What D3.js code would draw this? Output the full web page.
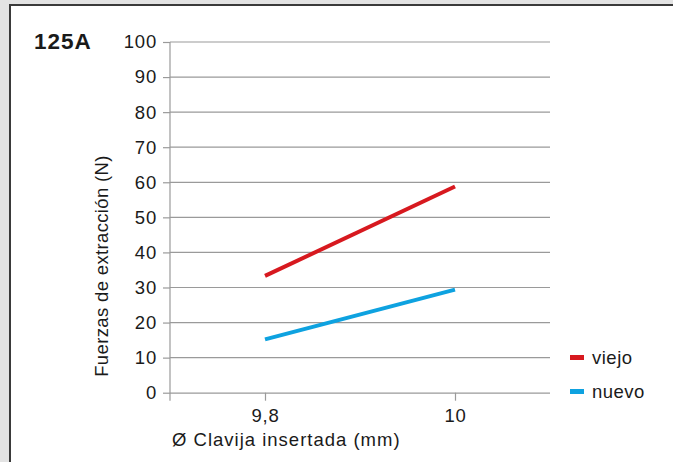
<!DOCTYPE html>
<html>
<head>
<meta charset="utf-8">
<script src="https://cdn.jsdelivr.net/npm/d3@7"></script>
<style>
  body { margin: 0; background: #e3e3e3; }
  text { font-family: "Liberation Sans", Arial, sans-serif; fill: #1a1a1a; }
</style>
</head>
<body>
<div id="chart"></div>
<script>
// chart data
const categories = ["9,8", "10"];
const seriesNames = ["viejo", "nuevo"];
const viejo = [33.3, 58.8];
const nuevo = [15.2, 29.4];
const yTicks = [0, 10, 20, 30, 40, 50, 60, 70, 80, 90, 100];
const colors = ["#d7191f", "#0ea2e0"];

const width = 673, height = 462;
const fontSize = "18.5px";
const svg = d3.select("#chart").append("svg")
	.attr("width", width)
	.attr("height", height);

// white panel with dark border
svg.append("rect")
	.attr("x", 10).attr("y", 5)
	.attr("width", width).attr("height", height)
	.attr("fill", "#fff")
	.attr("stroke", "#3a3a3a")
	.attr("stroke-width", 2);

const x = d3.scalePoint().domain(categories).range([170, 550]).padding(0.5);
const y = d3.scaleLinear().domain([0, 100]).range([392.7, 42]);

// gridlines
svg.append("g")
	.selectAll("line")
	.data(yTicks.filter(d => d > 0))
	.enter().append("line")
	.attr("x1", 170).attr("x2", 550)
	.attr("y1", d => y(d)).attr("y2", d => y(d))
	.attr("stroke", "#9a9a9a")
	.attr("stroke-width", 1.2);

// y axis
const yAxis = svg.append("g")
	.attr("transform", "translate(170,0)")
	.call(d3.axisLeft(y).tickValues(yTicks).tickSize(7).tickPadding(6).tickSizeOuter(0));
yAxis.select(".domain").remove();
yAxis.append("line")
	.attr("x1", 0).attr("x2", 0)
	.attr("y1", y(100)).attr("y2", y(0) + 8)
	.attr("stroke", "#9a9a9a").attr("stroke-width", 1.2);
yAxis.selectAll(".tick line").attr("stroke", "#9a9a9a").attr("stroke-width", 1.2);
yAxis.selectAll(".tick text")
	.style("font-size", fontSize)
	.style("letter-spacing", "0.8px")
	.style("font-family", "'Liberation Sans', Arial, sans-serif")
	.attr("fill", "#1a1a1a");

// x axis
const xAxis = svg.append("g")
	.attr("transform", "translate(0," + y(0) + ")")
	.call(d3.axisBottom(x).tickSize(8).tickPadding(8).tickSizeOuter(0));
xAxis.select(".domain").attr("d", "M170,0.5H550").attr("stroke", "#9a9a9a").attr("stroke-width", 1.2);
xAxis.selectAll(".tick line").attr("stroke", "#9a9a9a").attr("stroke-width", 1.2);
xAxis.selectAll(".tick text")
	.style("font-size", fontSize)
	.style("letter-spacing", "0.8px")
	.style("font-family", "'Liberation Sans', Arial, sans-serif")
	.attr("fill", "#1a1a1a");

// lines
const line = d3.line()
	.x((d, i) => x(categories[i]))
	.y(d => y(d));

[viejo, nuevo].forEach((vals, i) => {
	svg.append("path")
		.datum(vals)
		.attr("d", line)
		.attr("fill", "none")
		.attr("stroke", colors[i])
		.attr("stroke-width", 4);
});

// legend
const legend = svg.append("g");
seriesNames.forEach((name, i) => {
	const ly = 357.5 + i * 34;
	legend.append("rect")
		.attr("x", 570).attr("y", ly - 2.5)
		.attr("width", 14).attr("height", 5)
		.attr("fill", colors[i]);
	legend.append("text")
		.attr("x", 592).attr("y", ly + 6.5)
		.style("font-size", fontSize)
		.style("letter-spacing", "0.5px")
		.text(name);
});

// titles
svg.append("text")
	.attr("x", 34).attr("y", 49)
	.style("font-size", "22.5px")
	.style("font-weight", "bold")
	.style("letter-spacing", "1px")
	.text("125A");

svg.append("text")
	.attr("transform", "translate(108,266) rotate(-90)")
	.attr("text-anchor", "middle")
	.style("font-size", fontSize)
	.style("letter-spacing", "0.35px")
	.text("Fuerzas de extracción (N)");

svg.append("text")
	.attr("x", 172).attr("y", 446)
	.style("font-size", fontSize)
	.style("letter-spacing", "1px")
	.text("Ø Clavija insertada (mm)");
</script>
</body>
</html>
